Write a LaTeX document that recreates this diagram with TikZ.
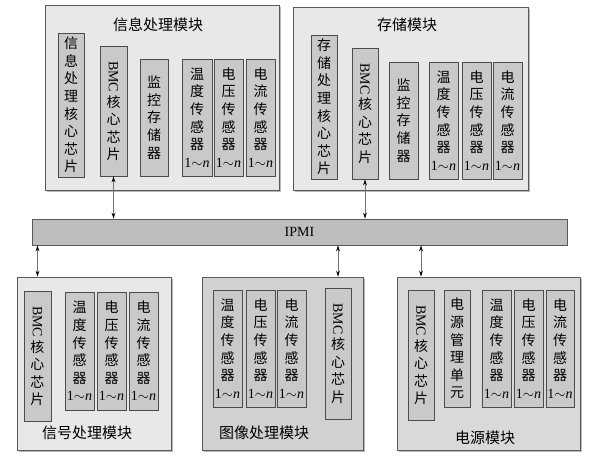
\documentclass[tikz,border=0pt]{standalone}
\usepackage{fontspec}
\usepackage{graphicx}
\setmainfont{Liberation Serif}
\newfontfamily\cjk{Noto Sans CJK SC}
\usetikzlibrary{arrows.meta,shadows}
\newcommand\bmcword{\rotatebox{-90}{\rmfamily BMC\kern2pt}}
\newcommand\onen{\rmfamily 1$\sim$\textit{n}}
\begin{document}
\begin{tikzpicture}[x=1pt,y=-1pt,
  module/.style={draw=black!65, line width=0.8pt, inner sep=0pt,
    drop shadow={shadow xshift=1.6pt, shadow yshift=-1.6pt, fill=black!28, opacity=1}},
  cell/.style={draw=black!70, line width=0.8pt, fill=black!21, align=center, inner sep=0pt,
    font=\cjk\fontsize{14}{17.6}\selectfont},
  title/.style={font=\cjk\fontsize{15}{18}\selectfont, inner sep=0pt},
  arr/.style={draw=black!55, line width=0.7pt, {Stealth[length=6pt,width=3.8pt,black]}-{Stealth[length=6pt,width=3.8pt,black]}}
]
\useasboundingbox (0,0) rectangle (595,464);

% ---------- module 1 ----------
\node[module, fill=black!9, minimum width=234, minimum height=185] (mod1) at (162,97.5) {};
\node[title] (t1) at (158,25) {信息处理模块};
\node[cell, minimum width=26, minimum height=144] (m1a) at (71,105) {信\\息\\处\\理\\核\\心\\芯\\片};
\node[cell, minimum width=27, minimum height=130] (m1b) at (113.5,111) {\bmcword\\核\\心\\芯\\片};
\node[cell, minimum width=28, minimum height=117] (m1c) at (154,117.5) {监\\控\\存\\储\\器};
\node[cell, minimum width=30, minimum height=117] (m1d) at (197,117.5) {温\\度\\传\\感\\器\\\onen};
\node[cell, minimum width=29, minimum height=117] (m1e) at (228.5,117.5) {电\\压\\传\\感\\器\\\onen};
\node[cell, minimum width=29, minimum height=117] (m1f) at (260.5,117.5) {电\\流\\传\\感\\器\\\onen};

% ---------- module 2 ----------
\node[module, fill=black!9, minimum width=235, minimum height=183] (mod2) at (410.5,98.5) {};
\node[title] (t2) at (407,25) {存储模块};
\node[cell, minimum width=26, minimum height=144] (m2a) at (324,107) {存\\储\\处\\理\\核\\心\\芯\\片};
\node[cell, minimum width=26, minimum height=131] (m2b) at (365,113.5) {\bmcword\\核\\心\\芯\\片};
\node[cell, minimum width=29, minimum height=117] (m2c) at (403.5,120.5) {监\\控\\存\\储\\器};
\node[cell, minimum width=29, minimum height=117] (m2d) at (443.5,120.5) {温\\度\\传\\感\\器\\\onen};
\node[cell, minimum width=29, minimum height=117] (m2e) at (476.5,120.5) {电\\压\\传\\感\\器\\\onen};
\node[cell, minimum width=29, minimum height=117] (m2f) at (507.5,120.5) {电\\流\\传\\感\\器\\\onen};

% ---------- IPMI bus ----------
\node[draw=black!65, line width=0.8pt, fill=black!26, minimum width=535, minimum height=26, inner sep=0pt,
  font=\rmfamily\fontsize{14}{16}\selectfont] (ipmi) at (299.5,232) {IPMI};

% ---------- module 3 ----------
\node[module, fill=black!9, minimum width=154, minimum height=173] (mod3) at (94,363.5) {};
\node[title] (t3) at (87,433) {信号处理模块};
\node[cell, minimum width=27, minimum height=130] (m3a) at (37.5,356) {\bmcword\\核\\心\\芯\\片};
\node[cell, minimum width=29, minimum height=118] (m3b) at (79.5,351) {温\\度\\传\\感\\器\\\onen};
\node[cell, minimum width=29, minimum height=118] (m3c) at (111.5,351) {电\\压\\传\\感\\器\\\onen};
\node[cell, minimum width=29, minimum height=118] (m3d) at (143.5,351) {电\\流\\传\\感\\器\\\onen};

% ---------- module 4 ----------
\node[module, fill=black!18, minimum width=161, minimum height=173] (mod4) at (282.5,363.5) {};
\node[title] (t4) at (264,433) {图像处理模块};
\node[cell, minimum width=29, minimum height=117] (m4a) at (227.5,348.5) {温\\度\\传\\感\\器\\\onen};
\node[cell, minimum width=29, minimum height=117] (m4b) at (260.5,348.5) {电\\压\\传\\感\\器\\\onen};
\node[cell, minimum width=29, minimum height=117] (m4c) at (291.5,348.5) {电\\流\\传\\感\\器\\\onen};
\node[cell, minimum width=26, minimum height=131] (m4d) at (338,353.5) {\bmcword\\核\\心\\芯\\片};

% ---------- module 5 ----------
\node[module, fill=black!15, minimum width=183, minimum height=173] (mod5) at (488.5,363.5) {};
\node[title] (t5) at (485,438) {电源模块};
\node[cell, minimum width=26, minimum height=130] (m5a) at (421,355) {\bmcword\\核\\心\\芯\\片};
\node[cell, minimum width=26, minimum height=117] (m5b) at (457,348.5) {电\\源\\管\\理\\单\\元};
\node[cell, minimum width=29, minimum height=117] (m5c) at (496.5,348.5) {温\\度\\传\\感\\器\\\onen};
\node[cell, minimum width=29, minimum height=117] (m5d) at (528.5,348.5) {电\\压\\传\\感\\器\\\onen};
\node[cell, minimum width=28, minimum height=117] (m5e) at (560,348.5) {电\\流\\传\\感\\器\\\onen};

% ---------- connectors ----------
\draw[arr] (m1b.south) -- (ipmi.north -| m1b.south);
\draw[arr] (m2b.south) -- (ipmi.north -| m2b.south);
\draw[arr] (ipmi.south -| m3a.north) -- (mod3.north -| m3a.north);
\draw[arr] (ipmi.south -| m4d.north) -- (mod4.north -| m4d.north);
\draw[arr] (ipmi.south -| m5a.north) -- (mod5.north -| m5a.north);
\end{tikzpicture}
\end{document}
